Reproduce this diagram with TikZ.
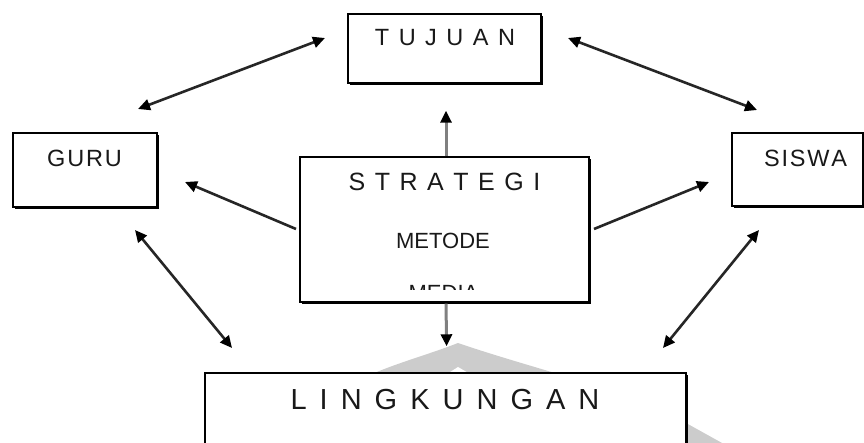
\documentclass[tikz,border=0pt]{standalone}
\usepackage{fontspec}
\setmainfont{Liberation Sans}
\usetikzlibrary{arrows.meta,shadows}

% spaced capitals for the headings
\newcommand\gp{\kern9.5pt}
\newcommand\gw{\kern13pt}
\newcommand\gs{\kern1.8pt}

\tikzset{
  box/.style={draw=black, line width=1.4pt, fill=white, inner sep=0pt,
    drop shadow={shadow xshift=2pt, shadow yshift=-2pt, fill=black, opacity=1}},
  caption/.style={inner sep=0pt, anchor=base, text=black!90},
  link/.style={draw=black!85, line width=2.6pt, <->},
  feed/.style={draw=black!85, line width=2.6pt, ->},
  stem/.style={draw=black!50, line width=3pt, ->},
  logo/.style={fill=black!20, draw=none}
}

\begin{document}
\begin{tikzpicture}[x=1pt,y=-1pt, >={Triangle[length=12pt,width=11pt,color=black]}]
  \useasboundingbox (0,0) rectangle (864,443);
  \clip (0,0) rectangle (864,443);
  \fill[white] (0,0) rectangle (864,443);

  % faint logo behind the lower box
  \path[logo] (372,374) .. controls (400,362) and (430,354) .. (458,343)
    .. controls (490,354) and (525,364) .. (558,374) -- cycle;
  \fill[white] (447,374) -- (458,367) -- (470,374) -- cycle;
  \path[logo] (686,423) -- (722,443) -- (686,443) -- cycle;

  % boxes
  \node[box, minimum width=193pt, minimum height=69pt] (tujuan) at (444.5,48.5) {};
  \node[box, minimum width=144pt, minimum height=74pt] (guru) at (85,170) {};
  \node[box, minimum width=131pt, minimum height=73pt] (siswa) at (797.5,169.5) {};
  \node[box, minimum width=289pt, minimum height=145pt] (strategi) at (444.5,229.5) {};
  \node[box, minimum width=481pt, minimum height=100pt] (lingkungan) at (445.5,423) {};

  % captions
  \node[caption, font=\fontsize{23.5}{24}\selectfont] (tTujuan) at (445,46)
    {T\gp U\gp J\gp U\gp A\gp N};
  \node[caption, font=\fontsize{23.5}{24}\selectfont] (tGuru) at (84.5,166.5)
    {G\gs U\gs R\gs U};
  \node[caption, font=\fontsize{23.5}{24}\selectfont] (tSiswa) at (805.5,166.5)
    {S\gs I\gs S\gs W\gs A};
  \node[caption, font=\fontsize{25}{26}\selectfont] (tStrategi) at (444.5,190.5)
    {S\gp T\gp R\gp A\gp T\gp E\gp G\gp I};
  \node[caption, font=\fontsize{22}{24}\selectfont] (tMetode) at (443,248.3) {METODE};
  \begin{scope}
    \clip (300,157) rectangle (589,289.5);
    \node[caption, font=\fontsize{22}{24}\selectfont] (tMedia) at (443.5,300.8) {MEDIA};
  \end{scope}
  \node[caption, font=\fontsize{29}{30}\selectfont] (tLingkungan) at (445,409)
    {L\gw I\gw N\gw G\gw K\gw U\gw N\gw G\gw A\gw N};

  % free ends of the connectors
  \coordinate (gT) at (138,109);
  \coordinate (tG) at (325,38);
  \coordinate (tS) at (568,38);
  \coordinate (sT) at (757,110);
  \coordinate (gL) at (135,230);
  \coordinate (lG) at (232,348);
  \coordinate (sL) at (759,230);
  \coordinate (lS) at (663,348);
  \coordinate (toGuru) at (185,182);
  \coordinate (toSiswa) at (709,182);
  \coordinate (fromLeft) at (296,229);
  \coordinate (fromRight) at (594,229);

  % connectors
  \draw[link] (gT) -- (tG);
  \draw[link] (tS) -- (sT);
  \draw[link] (gL) -- (lG);
  \draw[link] (sL) -- (lS);
  \draw[feed] (fromLeft) -- (toGuru);
  \draw[feed] (fromRight) -- (toSiswa);
  \draw[stem, shorten >=27pt] ([xshift=1.5pt]strategi.north) -- ([xshift=1.5pt]tujuan.south);
  \draw[stem, shorten >=26pt] ([xshift=1.5pt,yshift=-1pt]strategi.south) -- ([xshift=1.5pt]lingkungan.north);
\end{tikzpicture}
\end{document}
